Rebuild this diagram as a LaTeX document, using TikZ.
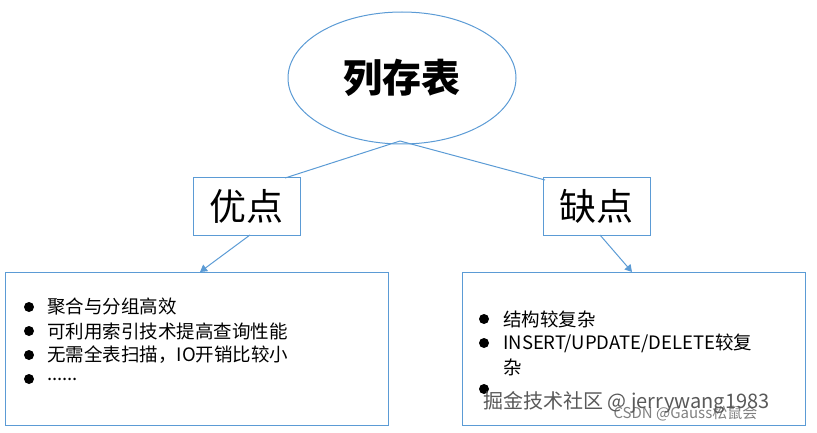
\documentclass[tikz,border=0pt]{standalone}
\usepackage{fontspec}
\setmainfont{Noto Sans CJK SC}
\usetikzlibrary{shapes.geometric,arrows.meta}
\definecolor{bl}{RGB}{91,155,213}
\begin{document}
\begin{tikzpicture}[x=1pt,y=-1pt,
  box/.style={draw=bl,line width=1pt,fill=white},
  ln/.style={bl,line width=1pt},
  arr/.style={ln,-{Triangle[length=7pt,width=8pt]}},
  it/.style={anchor=west,inner sep=0pt,font=\fontsize{18.5}{20}\selectfont},
  dot/.style={circle,fill=black,inner sep=0pt,minimum size=10pt}]
\useasboundingbox (0,0) rectangle (817,433);
\node[ellipse,box,minimum width=228pt,minimum height=132pt,font=\fontsize{39}{40}\selectfont\bfseries] (e) at (402,78) {列存表};
\node[box,minimum width=107pt,minimum height=57pt,font=\fontsize{37}{38}\selectfont] (p) at (246.5,206.5) {优点};
\node[box,minimum width=107pt,minimum height=57pt,font=\fontsize{37}{38}\selectfont] (n) at (596.5,206.5) {缺点};
\node[box,minimum width=383pt,minimum height=153pt] (lb) at (196.5,348.5) {};
\node[box,minimum width=343pt,minimum height=153pt] (rb) at (633.5,348.5) {};
\coordinate (e1) at (400,141);
\draw[ln] (e1) -- (285,178);
\draw[ln] (e1) -- (545,180);
\draw[arr] (250,235) -- (200,272);
\draw[arr] (600,235) -- (632,272);
\foreach \y/\t [count=\i] in {307/{聚合与分组高效},331/{可利用索引技术提高查询性能},355/{无需全表扫描，IO开销比较小},379/{{......}}}{
  \node[dot] (ld\i) at (29,\y) {};
  \node[it] (lt\i) at (47,\y) {\t};
}
\node[dot] (rd1) at (484,319) {};
\node[it] (rt1) at (503,319) {结构较复杂};
\node[dot] (rd2) at (484,343) {};
\node[it] (rt2) at (503,343) {INSERT/UPDATE/DELETE较复};
\node[it] (rt3) at (503,367) {杂};
\node[dot] (rd3) at (484,389) {};
\node[anchor=west,font=\fontsize{15}{17}\selectfont,text=gray] (w2) at (610,413) {CSDN @Gauss松鼠会};
\node[anchor=west,font=\fontsize{20}{22}\selectfont,text=gray!70!black] (w1) at (480,403) {掘金技术社区 @ jerrywang1983};
\end{tikzpicture}
\end{document}
